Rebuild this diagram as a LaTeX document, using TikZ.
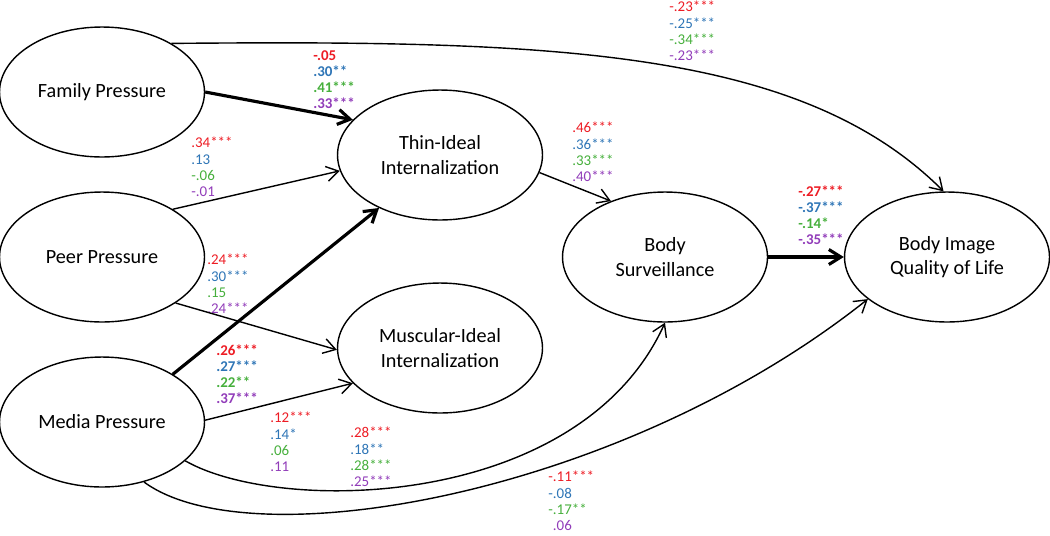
\documentclass[tikz,border=0pt]{standalone}
\usepackage{fontspec}
\setmainfont{Carlito}
\usetikzlibrary{arrows.meta,shapes.geometric}
\definecolor{cred}{RGB}{237,28,36}
\definecolor{cblue}{RGB}{46,117,182}
\definecolor{cgreen}{RGB}{70,175,60}
\definecolor{cpurple}{RGB}{145,60,185}
\tikzset{
  latent/.style={ellipse, draw, line width=0.8pt, minimum width=4.1cm, minimum height=2.6cm,
    inner sep=0pt, align=center, font=\fontsize{11.5}{14}\selectfont},
  eff/.style={-{Straight Barb[length=2.4mm,width=3mm]}, line width=0.8pt},
  effbold/.style={eff, line width=1.8pt},
  coef/.style={anchor=north west, inner sep=0pt, align=left, font=\fontsize{8.5}{9.2}\selectfont},
  coefbold/.style={coef, font=\fontsize{8.5}{9.2}\selectfont\bfseries}
}
\newcommand{\cf}[4]{\textcolor{cred}{#1}\\\textcolor{cblue}{#2}\\\textcolor{cgreen}{#3}\\\textcolor{cpurple}{#4}}

\begin{document}
\begin{tikzpicture}[x=0.02cm, y=-0.02cm]
\useasboundingbox (0,0) rectangle (1050,535);

\node[latent] (fam) at (102,92) {Family Pressure};
\node[latent] (peer) at (102,257) {Peer Pressure};
\node[latent] (media) at (102,422) {Media Pressure};
\node[latent] (thin) at (440,155) {Thin-Ideal\\Internalization};
\node[latent] (musc) at (440,348) {Muscular-Ideal\\Internalization};
\node[latent] (surv) at (665,257) {Body\\Surveillance};
\node[latent] (qol) at (947,257) {Body Image\\Quality of Life};

% coefficients
\node[coef] (k1) at (669,1) {\cf{-.23***}{-.25***}{-.34***}{-.23***}};
\node[coefbold] (k2) at (313,50) {\cf{-.05}{.30**}{.41***}{.33***}};
\node[coef] (k3) at (191,137) {\cf{.34***}{.13}{-.06}{-.01}};
\node[coef] (k4) at (572,122) {\cf{.46***}{.36***}{.33***}{.40***}};
\node[coef] (k5) at (207,254) {\cf{.24***}{.30***}{.15}{.24***}};
\node[coefbold] (k6) at (216,344) {\cf{.26***}{.27***}{.22**}{.37***}};
\node[coef] (k7) at (270,412) {\cf{.12***}{.14*}{.06}{.11}};
\node[coef] (k8) at (350,427) {\cf{.28***}{.18**}{.28***}{.25***}};
\node[coefbold] (k9) at (798,185) {\cf{-.27***}{-.37***}{-.14*}{-.35***}};
\node[coef] (k10) at (548,471) {\cf{-.11***}{-.08}{-.17**}{\phantom{-}.06}};

\draw[eff] (fam.35) .. controls (550,40) and (800,48) .. (qol.93);
\draw[effbold] (fam.east) -- (thin.158);
\draw[eff] (peer.34) -- (thin.189);
\draw[eff] (peer.328) -- (musc.181);
\draw[effbold] (media.34) -- (thin.221);
\draw[eff] (media.1) -- (musc.202);
\draw[eff] (media.335) .. controls (280,515) and (580,510) .. (surv.south);
\draw[eff] (media.305) .. controls (250,560) and (620,496) .. (qol.208);
\draw[eff] (thin.350) -- (surv.134);
\draw[effbold] (surv.east) -- (qol.west);
\end{tikzpicture}
\end{document}
